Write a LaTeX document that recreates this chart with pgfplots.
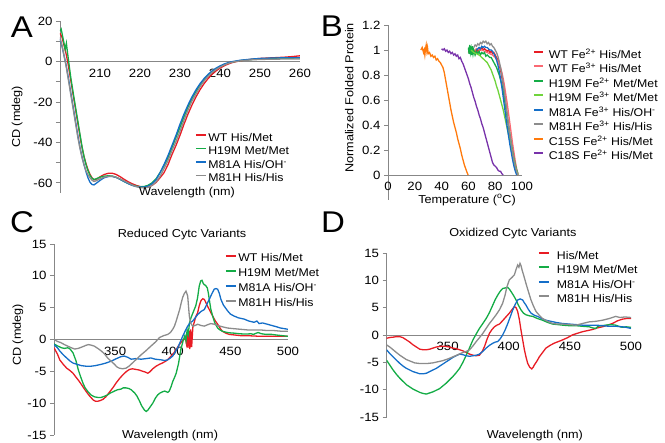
\documentclass[border=0pt]{standalone}
\usepackage{pgfplots}
\pgfplotsset{compat=1.18}
\usepackage{fontspec}
\setmainfont{Liberation Sans}[FakeStretch=1.1]
\definecolor{cred}{RGB}{232,28,36}
\definecolor{cgreen}{RGB}{20,172,70}
\definecolor{cblue}{RGB}{20,110,200}
\definecolor{cgray}{RGB}{140,140,140}
\definecolor{cpink}{RGB}{250,105,115}
\definecolor{clgreen}{RGB}{112,212,60}
\definecolor{corange}{RGB}{255,122,12}
\definecolor{cpurple}{RGB}{120,50,170}
\definecolor{axgray}{RGB}{135,135,135}
\pgfplotsset{
  panel/.style={
    scale only axis, anchor=south west,
    axis x line*=middle, axis y line*=left,
    axis line style={axgray,line width=0.8pt},
    tick style={axgray,line width=0.8pt},
    tick align=outside, major tick length=4pt, minor tick length=4pt,
    xtick style={draw=none},
    hide obscured x ticks=false, hide obscured y ticks=false,
    tick label style={font=\fontsize{12}{14}\selectfont},
    label style={font=\fontsize{11.5}{13}\selectfont},
    every axis plot/.append style={line width=1.3pt, no markers},
    legend style={draw=none, fill=none, inner sep=0pt, outer sep=0pt, anchor=north west,
      cells={anchor=west}, font=\fontsize{11.2}{13}\selectfont,
      nodes={inner sep=0pt, text height=8pt, text depth=2.5pt}},
    legend image code/.code={\draw[#1,line width=1.8pt] (0pt,3.5pt) -- (10pt,3.5pt);},
  }
}
\begin{document}
\begin{tikzpicture}[x=1pt,y=1pt]
\useasboundingbox (0,0) rectangle (665,443);
\node[font=\fontsize{30}{30}\selectfont] at (22,416) {A};
\node[font=\fontsize{30}{30}\selectfont] at (332,417) {B};
\node[font=\fontsize{30}{30}\selectfont] at (22,221) {C};
\node[font=\fontsize{30}{30}\selectfont] at (333,221) {D};
% ---------------- A
\begin{axis}[panel, at={(60pt,250pt)}, width=240pt, height=172pt,
  xmin=200, xmax=260, ymin=-65, ymax=20,
  xtick={210,220,230,240,250,260}, xticklabels={210,220,230,240,250,260},
  ytick={-60,-50,-40,-30,-20,-10,0,10,20}, yticklabels={-60,,-40,,-20,,0,,20},
  ylabel={CD (mdeg)}, xlabel={Wavelength (nm)},
  y label style={at={(axis description cs:-0.179,0.442)}, anchor=center},
  x label style={at={(axis description cs:0.529,0.0)}, anchor=center},
  legend style={at={(axis description cs:0.5625,0.347)}, row sep=3pt,
    /tikz/every odd column/.append style={column sep=1.5pt}},
]
\addplot[cred] coordinates {(200,14)(200.5,12)(201,8)(201.5,4)(202,-1)(202.5,-7)(203,-13)(203.5,-19)(204,-25)(204.5,-31)(205,-37)(205.5,-42.5)(206,-47)(206.5,-50.5)(207,-53.5)(207.5,-55.8)(208,-57.5)(208.5,-58.5)(209,-58.3)(210,-57)(211,-55.9)(212,-55.3)(213,-55.2)(214,-55.8)(215,-56.9)(216,-58.2)(217,-59.4)(218,-60.4)(219,-61.2)(220,-61.8)(221,-62.1)(222,-62)(223,-61.3)(224,-59.8)(225,-57.5)(226,-55)(227,-51)(228,-46)(229,-41.5)(230,-36.5)(231,-31)(232,-26)(233,-21.5)(234,-17.5)(235,-14)(236,-11)(237,-8.5)(238,-6.4)(239,-4.7)(240,-3.3)(241,-2.2)(242,-1.3)(243,-0.6)(244,-0.1)(246,0.6)(248,1.1)(250,1.5)(253,1.8)(256,2.1)(258,2.4)(260,2.8)};
\addlegendentry{WT His/Met}
\addplot[cgreen] coordinates {(200,15)(200.3,16)(200.6,13)(201,9)(201.3,6)(201.6,9)(201.9,4)(202.3,-2)(202.7,-8)(203.1,-13)(203.5,-18)(204,-24)(204.5,-30)(205,-36)(205.5,-42)(206,-47)(206.5,-51)(207,-54)(207.5,-56.3)(208,-57.8)(208.5,-58.3)(209,-58)(210,-57.2)(211,-56.7)(212,-56.5)(213,-56.6)(214,-57.2)(215,-58.2)(216,-59.3)(217,-60.3)(218,-61.1)(219,-61.6)(220,-61.9)(221,-61.8)(222,-61.2)(223,-60)(224,-58)(225,-55)(226,-51.5)(227,-47.5)(228,-42.5)(229,-37.5)(230,-32.5)(231,-27.3)(232,-22.5)(233,-18.3)(234,-14.8)(235,-11.6)(236,-9)(237,-6.8)(238,-5)(239,-3.6)(240,-2.5)(241,-1.6)(242,-0.8)(243,-0.3)(245,0.4)(248,1)(250,1.3)(253,1.5)(256,1.6)(260,1.7)};
\addlegendentry{H19M Met/Met}
\addplot[cblue] coordinates {(200,11)(200.5,7.5)(201,3)(201.5,-1.5)(202,-7)(202.5,-13)(203,-19)(203.5,-25)(204,-31)(204.5,-37)(205,-42.5)(205.5,-47)(206,-51)(206.5,-54.5)(207,-57.5)(207.5,-59.7)(208,-60.8)(208.5,-61)(209,-60.3)(210,-58.8)(211,-57.5)(212,-56.9)(213,-56.8)(214,-57.3)(215,-58.2)(216,-59.3)(217,-60.3)(218,-61.2)(219,-61.8)(220,-62.1)(221,-62.1)(222,-61.6)(223,-60.5)(224,-58.5)(225,-55)(226,-51)(227,-46.5)(228,-41.5)(229,-36.5)(230,-31)(231,-26)(232,-21.5)(233,-17.5)(234,-14)(235,-11)(236,-8.5)(237,-6.4)(238,-4.7)(239,-3.3)(240,-2.2)(241,-1.3)(242,-0.6)(243,-0.1)(245,0.6)(248,1.2)(250,1.5)(253,1.7)(256,1.8)(260,1.8)};
\addlegendentry{M81A His/OH\textsuperscript{-}}
\addplot[cgray] coordinates {(200,12)(200.5,8)(201,3)(201.5,-2)(202,-8)(202.5,-14)(203,-20)(203.5,-26)(204,-32)(204.5,-38)(205,-43)(205.5,-47.5)(206,-51)(206.5,-54)(207,-56)(207.5,-57.5)(208,-58.7)(208.5,-59.3)(209,-59)(210,-58)(211,-57.2)(212,-56.8)(213,-56.7)(214,-57.2)(215,-58)(216,-59)(217,-60)(218,-61)(219,-61.8)(220,-62.3)(221,-62.5)(222,-62.2)(223,-61.2)(224,-59.5)(225,-56.8)(226,-53)(227,-49)(228,-44)(229,-39.5)(230,-34.5)(231,-29)(232,-24)(233,-19.5)(234,-16)(235,-12.5)(236,-9.7)(237,-7.4)(238,-5.5)(239,-4)(240,-2.8)(241,-1.8)(242,-1)(243,-0.4)(244,0)(246,0.5)(248,0.8)(250,1)(253,1.1)(256,1.2)(260,1.2)};
\addlegendentry{M81H His/His}
\end{axis}
% ---------------- B
\begin{axis}[panel, at={(388pt,243pt)}, width=134pt, height=175pt,
  xmin=0, xmax=100, ymin=-0.2, ymax=1.2,
  xtick={0,20,40,60,80,100}, xticklabels={0,20,40,60,80,100},
  ytick={0,0.2,0.4,0.6,0.8,1,1.2}, yticklabels={0,0.2,0.4,0.6,0.8,1,1.2},
  ylabel={Normalized Folded Protein}, xlabel={Temperature (\textsuperscript{o}C)},
  y label style={at={(axis description cs:-0.29,0.583)}, anchor=center},
  x label style={at={(axis description cs:0.59,0.0)}, anchor=center},
  legend style={at={(axis description cs:1.082,0.857)}, row sep=4pt,
    /tikz/every odd column/.append style={column sep=5pt}},
  legend image code/.code={\draw[#1,line width=1.8pt] (0pt,3.5pt) -- (9pt,3.5pt);},
]
\addplot[cred] coordinates {(60,0.98)(61,1.0)(62,0.99)(63,1.01)(64,0.98)(65,0.99)(66,1.0)(67,0.99)(68,1.01)(69,1.0)(70,1.02)(71,1.0)(72,1.01)(73,1.0)(74,0.99)(75,1.0)(76,0.98)(77,0.99)(78,0.97)(79,0.98)(80,0.96)(81,0.94)(82,0.92)(83,0.88)(84,0.84)(85,0.78)(86,0.72)(87,0.64)(88,0.56)(89,0.47)(90,0.39)(91,0.31)(92,0.24)(93,0.17)(94,0.11)(95,0.06)(96,0.02)(97,0)};
\addlegendentry{WT Fe\textsuperscript{2+} His/Met}
\addplot[cpink] coordinates {(62,1.0)(64,0.99)(66,1.01)(68,1.0)(70,1.0)(72,0.99)(74,0.98)(76,0.97)(78,0.96)(80,0.94)(82,0.91)(84,0.86)(85,0.82)(86,0.77)(87,0.71)(88,0.64)(89,0.57)(90,0.49)(91,0.41)(92,0.33)(93,0.25)(94,0.18)(95,0.11)(96,0.05)(97,0.01)};
\addlegendentry{WT Fe\textsuperscript{3+} His/Met}
\addplot[cgreen] coordinates {(60,1.02)(60.5,0.97)(61,1.04)(61.5,0.98)(62,1.01)(62.5,0.96)(63,1.03)(63.5,0.97)(64,1.0)(65,0.96)(66,0.99)(67,0.97)(68,0.99)(69,0.96)(70,0.98)(71,0.97)(72,0.98)(73,0.95)(74,0.96)(75,0.95)(76,0.94)(77,0.94)(78,0.92)(79,0.9)(80,0.88)(81,0.86)(82,0.83)(83,0.8)(84,0.76)(85,0.72)(86,0.67)(87,0.6)(88,0.53)(89,0.46)(90,0.39)(91,0.32)(92,0.25)(93,0.19)(94,0.13)(95,0.08)(96,0.04)(97,0.01)};
\addlegendentry{H19M Fe\textsuperscript{2+} Met/Met}
\addplot[clgreen] coordinates {(62,1.0)(64,0.98)(66,0.97)(68,0.96)(70,0.94)(72,0.92)(74,0.9)(75,0.88)(76,0.86)(77,0.84)(78,0.81)(79,0.78)(80,0.75)(81,0.71)(82,0.68)(83,0.64)(84,0.6)(85,0.56)(86,0.52)(87,0.47)(88,0.42)(89,0.37)(90,0.32)(91,0.27)(92,0.22)(93,0.17)(94,0.12)(95,0.07)(96,0.03)(97,0)};
\addlegendentry{H19M Fe\textsuperscript{3+} Met/Met}
\addplot[cblue] coordinates {(66,1.0)(67,1.01)(68,1.02)(69,1.01)(70,1.03)(71,1.02)(72,1.03)(73,1.02)(74,1.02)(75,1.01)(76,1.0)(77,1.0)(78,0.99)(79,0.97)(80,0.95)(81,0.92)(82,0.88)(83,0.83)(84,0.77)(85,0.7)(86,0.62)(87,0.54)(88,0.46)(89,0.38)(90,0.31)(91,0.24)(92,0.18)(93,0.12)(94,0.07)(95,0.03)(96,0)};
\addlegendentry{M81A Fe\textsuperscript{3+} His/OH\textsuperscript{-}}
\addplot[cgray] coordinates {(64,1.02)(65,1.04)(66,1.03)(67,1.05)(68,1.04)(69,1.06)(70,1.05)(71,1.07)(72,1.06)(73,1.07)(74,1.05)(75,1.06)(76,1.04)(77,1.05)(78,1.03)(79,1.02)(80,1.0)(81,0.98)(82,0.95)(83,0.91)(84,0.86)(85,0.8)(86,0.73)(87,0.65)(88,0.57)(89,0.48)(90,0.4)(91,0.32)(92,0.25)(93,0.18)(94,0.12)(95,0.07)(96,0.03)(97,0)};
\addlegendentry{M81H Fe\textsuperscript{3+} His/His}
\addplot[corange] coordinates {(24.5,1.0)(25.5,1.02)(26.5,0.98)(27,1.0)(27.5,0.96)(28,1.01)(28.5,1.04)(29,0.99)(29.5,1.02)(30,0.97)(31,0.98)(32,0.95)(33,0.96)(34,0.94)(35,0.95)(36,0.92)(37,0.93)(38,0.91)(39,0.9)(40,0.88)(41,0.86)(42,0.82)(43,0.76)(44,0.7)(45,0.64)(46,0.58)(47,0.52)(48,0.47)(49,0.42)(50,0.38)(51,0.34)(52,0.29)(53,0.25)(54,0.21)(55,0.16)(56,0.12)(57,0.08)(58,0.05)(59,0.02)(59.8,0)};
\addlegendentry{C15S Fe\textsuperscript{2+} His/Met}
\addplot[cpurple] coordinates {(40,1.01)(41,1.0)(42,1.01)(43,0.99)(44,1.0)(45,0.98)(46,0.99)(47,0.97)(48,0.98)(49,0.96)(50,0.97)(51,0.95)(52,0.96)(53,0.93)(54,0.94)(55,0.91)(56,0.89)(57,0.86)(58,0.83)(59,0.8)(60,0.77)(61,0.73)(62,0.7)(63,0.66)(64,0.62)(65,0.59)(66,0.55)(67,0.52)(68,0.48)(69,0.45)(70,0.41)(71,0.38)(72,0.34)(73,0.3)(74,0.26)(75,0.22)(76,0.18)(77,0.14)(78,0.1)(79,0.08)(80,0.07)(81,0.06)(82,0.04)(83,0.03)(84,0.03)(85,0.01)(86,0)};
\addlegendentry{C18S Fe\textsuperscript{2+} His/Met}
\end{axis}
% ---------------- C
\begin{axis}[panel, at={(54pt,8pt)}, width=234pt, height=191pt,
  xmin=297, xmax=500, ymin=-15, ymax=15,
  xtick={350,400,450,500}, xticklabels={350,400,450,500},
  ytick={-15,-10,-5,0,5,10,15}, yticklabels={-15,-10,-5,0,5,10,15},
  ylabel={CD (mdeg)}, xlabel={Wavelength (nm)},
  title={Reduced Cytc Variants},
  title style={at={(axis description cs:0.547,1.02)}, anchor=center, font=\fontsize{11.5}{13}\selectfont},
  y label style={at={(axis description cs:-0.154,0.524)}, anchor=center},
  x label style={at={(axis description cs:0.496,-0.004)}, anchor=center},
  legend style={at={(axis description cs:0.731,0.948)}, row sep=4.5pt,
    /tikz/every odd column/.append style={column sep=1.5pt}},
]
\addplot[cred] coordinates {(297,-1.3)(300,-2.3)(302,-3.2)(305,-3.9)(308,-4.5)(311,-4.9)(313.5,-5.3)(316,-5.9)(319,-6.6)(322,-7.4)(325,-8.2)(328,-8.9)(331,-9.5)(333,-9.7)(335,-9.7)(337,-9.6)(339.5,-9.4)(342,-9)(345,-8.3)(348,-7.6)(351,-6.8)(354,-6.1)(357,-5.5)(360,-5)(362.5,-4.7)(365,-4.6)(368,-4.7)(371,-4.8)(374,-5)(376,-5.1)(378.4,-5.3)(380,-5.1)(382.7,-4.6)(385.5,-4.2)(388.5,-3.9)(391,-3.7)(394,-3.4)(396,-3.1)(398.6,-2.6)(401,-2.1)(403,-1.6)(405,-1)(407,-0.5)(409,-0.1)(410,0)(411,0.2)(411.8,-0.6)(412.5,1.2)(413.2,-1.3)(414,1.4)(414.8,-1.5)(415.6,1.6)(416.4,-1.2)(417.5,2)(418.5,2.6)(420,3.6)(421.6,4.2)(423,5.3)(424.5,6.1)(426,6.4)(427.4,6.3)(428.5,5.9)(430,5.3)(432,4.6)(434.6,3.7)(437,2.9)(439,2.4)(441,1.8)(443,1.3)(446,1)(449,0.8)(454,0.7)(459,0.6)(465,0.6)(470,0.55)(476,0.5)(482,0.5)(488,0.5)(494,0.5)(500,0.5)};
\addlegendentry{WT His/Met}
\addplot[cgreen] coordinates {(297,-0.7)(300,-1)(303.5,-1.3)(306,-1.4)(309,-1.3)(311,-1.5)(313.5,-2.1)(316,-3.3)(318,-4.7)(320,-5.8)(322,-6.8)(324,-7.6)(326.5,-8.2)(329,-8.7)(332,-9)(335,-9.1)(338,-9.1)(341,-8.9)(343.5,-8.7)(346,-8.4)(349.5,-8.1)(352,-7.9)(355,-7.8)(357,-7.6)(359.5,-7.6)(362,-7.7)(364,-7.9)(367,-8.4)(369,-8.9)(371,-9.6)(373,-10.4)(375.5,-11.1)(377,-11.3)(378.4,-11.1)(380,-10.7)(382.7,-10)(385,-9.2)(387,-8.7)(389,-8.4)(391.4,-8.2)(393,-8.1)(395.7,-8.3)(397,-8.1)(398.6,-7.4)(400,-6.6)(401.5,-6)(403,-5.3)(405,-3.8)(407,-1.6)(409,-0.2)(410.5,0.6)(411.5,-0.2)(412.5,1.5)(413.5,0.8)(414.5,2.6)(416,3.5)(418,4.4)(420,5.3)(421.5,6.5)(423,8.4)(424.3,9.2)(425.4,9.3)(426.5,8.8)(427.4,8.6)(428.5,8.5)(430,8.1)(431,7.2)(431.7,6.3)(433,4.8)(434.6,3.7)(436.5,2.6)(439,1.8)(441,1.5)(443,1.3)(446,1.15)(449,1.05)(453,1)(458,0.9)(463,0.85)(468,0.9)(470,0.8)(474,1.1)(477,0.9)(481,0.8)(486,0.8)(490,0.7)(495,0.6)(500,0.5)};
\addlegendentry{H19M Met/Met}
\addplot[cblue] coordinates {(297,-0.8)(300,-1.3)(302,-1.8)(305,-2.4)(308,-2.9)(311,-3.4)(313.5,-3.7)(317,-3.9)(320.6,-4.1)(325,-4.2)(329,-4.2)(333,-4.1)(338,-3.9)(342,-3.7)(346.7,-3.4)(350,-3.1)(352.5,-2.9)(355,-2.7)(358,-2.6)(361,-2.8)(364,-3.1)(368,-3.0)(372.6,-3.1)(377,-3.0)(381,-2.9)(385,-3.1)(390,-3.2)(393,-3.3)(395.7,-3.2)(398,-2.9)(400,-2.6)(402,-2.0)(404.3,-1.3)(406.5,-0.4)(408.6,0.5)(411,1.4)(413,2.1)(415,2.6)(417.3,2.9)(419.5,3.4)(421.6,3.9)(424.5,4.4)(427.4,4.7)(429.5,5.5)(431.7,6.3)(434,7.2)(436,7.9)(437.5,8)(439,7.9)(440.5,7.2)(441.8,6.3)(444,5.4)(447.6,4.5)(450,4)(453,3.7)(457,3.4)(462,3.2)(466,2.9)(470.6,2.7)(473,2.9)(475,2.5)(478,2.6)(482,2.4)(486,2.2)(490,2.0)(493.5,1.8)(497,1.7)(500,1.6)};
\addlegendentry{M81A His/OH\textsuperscript{-}}
\addplot[cgray] coordinates {(297,0)(300,-0.3)(303,-0.5)(306,-0.8)(309,-1.05)(312,-1.3)(315,-1.5)(318,-1.4)(321,-1.2)(323,-1.05)(325,-0.9)(327,-0.8)(329.5,-0.9)(332,-1.05)(335,-1.4)(338,-1.8)(341,-2.3)(343.5,-2.9)(346.5,-3.4)(349.5,-3.9)(351.5,-4.3)(353.6,-4.5)(356.5,-4.6)(359.5,-4.5)(362,-4.2)(365,-3.7)(368.5,-3.1)(372.6,-2.4)(376.5,-1.8)(381,-1.05)(385,-0.4)(388.5,0.3)(392,0.6)(395.7,0.8)(398,1.1)(400,1.6)(401.5,2.1)(403,2.9)(404.5,3.8)(406,4.7)(407.3,5.7)(408.6,6.6)(410,7.2)(411.5,7.6)(412.3,7.2)(413,6.8)(413.7,5.2)(414.4,3.7)(415.5,2.6)(417.3,2.1)(419.5,2.2)(421.6,2.4)(424.5,2.2)(427.4,2.1)(430,2.3)(433,2.5)(436,2.4)(439,2.2)(443,2)(447.6,1.8)(453,1.7)(459,1.6)(465,1.5)(470,1.5)(476,1.5)(482,1.4)(488,1.4)(494,1.3)(500,1.3)};
\addlegendentry{M81H His/His}
\end{axis}
% ---------------- D
\begin{axis}[panel, at={(386.5pt,26pt)}, width=244.5pt, height=164pt,
  xmin=300, xmax=500, ymin=-15, ymax=15,
  xtick={350,400,450,500}, xticklabels={350,400,450,500},
  ytick={-15,-10,-5,0,5,10,15}, yticklabels={-15,-10,-5,0,5,10,15},
  xlabel={Wavelength (nm)},
  title={Oxidized Cytc Variants},
  title style={at={(axis description cs:0.517,1.08)}, anchor=center, font=\fontsize{11.5}{13}\selectfont},
  x label style={at={(axis description cs:0.607,-0.11)}, anchor=center},
  legend style={at={(axis description cs:0.62,1.012)}, row sep=4pt,
    /tikz/every odd column/.append style={column sep=7pt}},
]
\addplot[cred] coordinates {(300,-0.6)(303,-0.45)(305.4,-0.4)(308,-0.3)(310.9,-0.3)(313.5,-0.5)(316.3,-0.9)(319,-1.3)(321.7,-1.8)(324.5,-2.2)(327.2,-2.6)(330,-2.7)(332.6,-2.7)(335.3,-2.6)(338,-2.4)(340.7,-2.2)(343.5,-2.1)(346,-2.05)(348.9,-2.1)(351.6,-2.2)(354.3,-2.4)(357,-2.5)(359.8,-2.7)(362.5,-2.9)(365.2,-3.2)(368,-3.5)(370.7,-3.7)(373.3,-3.8)(376,-3.7)(378.3,-3)(380.2,-2.1)(382.2,-0.8)(384.2,0.3)(386.3,1)(388.3,1.5)(390.3,1.8)(392.4,2.0)(394.5,2.5)(396.5,3.0)(398.5,3.5)(400.5,4.0)(402.5,4.6)(404.6,5.2)(406,5.0)(407.3,4.3)(408.7,2.8)(410,0.9)(411.4,-0.9)(412.8,-2.7)(414.2,-4.1)(415.5,-5.2)(417.2,-5.9)(418.8,-6.2)(420,-5.9)(420.9,-5.5)(423,-4.8)(425,-4.0)(427.7,-3.2)(430.4,-2.4)(433.8,-1.9)(437.2,-1.5)(440.6,-1.2)(444,-0.9)(448,-0.5)(452,0)(456,0.3)(460.3,0.6)(464.4,0.8)(468.5,1.0)(472.5,1.3)(476.6,1.5)(480.7,1.8)(484.8,2.1)(489,2.6)(493,2.9)(496,3.0)(500,3.0)};
\addlegendentry{His/Met}
\addplot[cgreen] coordinates {(300,-4.6)(302.7,-5.5)(305.4,-6.4)(308.1,-7.2)(310.9,-7.9)(313.6,-8.5)(316.3,-9.1)(319,-9.5)(321.7,-9.9)(324.5,-10.2)(327.2,-10.5)(330,-10.7)(332.6,-10.8)(335.3,-10.6)(338,-10.4)(340.8,-10.1)(343.5,-9.8)(346.2,-9.3)(348.9,-8.8)(351.6,-8.2)(354.3,-7.6)(357,-6.9)(359.8,-6.1)(362.5,-5.0)(365.2,-3.7)(368,-2.3)(370.7,-0.9)(373.4,0.2)(376,1.2)(378.8,2.1)(381.5,3.0)(384.2,4.1)(387,5.5)(389,6.5)(391,7.3)(393,8.0)(395,8.5)(397,8.6)(399.2,8.7)(400.5,8.4)(402,7.9)(404,7.2)(406,6.4)(408,5.4)(410,4.6)(412,4.0)(414,3.7)(417,3.5)(419.6,3.4)(423.6,3.0)(427.7,2.7)(431.8,2.3)(435.9,2.0)(440,1.9)(444,1.8)(449.5,1.7)(455,1.7)(460,1.6)(465.8,1.5)(468.5,1.3)(471.2,1.2)(473,1.6)(476,1.7)(479.3,1.8)(483.4,1.9)(487.5,1.8)(491,1.5)(493,1.4)(496,1.5)(500,1.4)};
\addlegendentry{H19M Met/Met}
\addplot[cblue] coordinates {(300,-2.7)(302.7,-3.4)(305.4,-4.0)(308.1,-4.6)(310.9,-5.2)(313.6,-5.7)(316.3,-6.1)(319,-6.4)(321.7,-6.7)(324.5,-6.9)(327.2,-7.1)(330,-7.1)(332.6,-7.0)(335.3,-6.7)(338,-6.4)(340.8,-6.1)(343.5,-5.7)(346.2,-5.3)(348.9,-4.9)(351.6,-4.5)(354.3,-4.1)(357,-3.8)(359.8,-3.5)(362.5,-3.6)(365.2,-3.8)(368,-3.9)(370.7,-3.8)(373.4,-3.7)(376,-3.5)(378.8,-3.0)(381.5,-2.4)(384.2,-1.9)(387,-1.5)(389,-1.3)(391,-1.2)(393,-0.7)(395,0)(397,0.9)(399.2,2.1)(401.2,3.3)(403.3,4.6)(405.3,5.6)(407.3,6.4)(409.3,6.6)(411.4,6.4)(412.7,5.9)(414,5.5)(416,4.7)(418.2,4.0)(421,3.6)(423.6,3.4)(427,3.0)(430.4,2.7)(434.5,2.5)(438.6,2.3)(444,2.1)(449.5,2.0)(455,1.9)(460.3,1.8)(466,1.8)(471.2,1.8)(476.6,1.7)(482,1.6)(487.5,1.6)(493,1.5)(496,1.4)(500,1.2)};
\addlegendentry{M81A His/OH\textsuperscript{-}}
\addplot[cgray] coordinates {(300,-1.8)(302.7,-2.2)(305.4,-2.7)(308.1,-3.2)(310.9,-3.7)(313.6,-4.1)(316.3,-4.5)(319.6,-4.8)(323,-5.1)(326.5,-5.2)(330,-5.2)(334,-5.2)(338,-5.1)(342,-4.9)(346,-4.7)(350,-4.4)(354.3,-4.0)(358.4,-3.6)(362.5,-3.2)(365.2,-3.0)(368,-2.7)(370.7,-2.0)(373.4,-1.2)(376,-0.5)(378.8,0.3)(381.5,1.2)(384.2,2.1)(387,2.9)(389.7,3.7)(392.4,4.6)(395,5.8)(397,7.3)(398.5,8.8)(400.5,10.1)(402.5,10.5)(404.6,11.0)(406,12.0)(407.3,12.8)(408.3,12.4)(409.2,13.1)(410,12.7)(410.9,11.9)(412.5,10.7)(414,9.5)(416,8.0)(418.2,6.4)(420.2,5.3)(422.3,4.3)(425,3.6)(427.7,3.0)(431.8,2.5)(435.9,2.1)(440,2.0)(444,2.0)(449.5,1.9)(455,1.8)(460.3,2.1)(465.8,2.4)(471.2,2.5)(476.6,2.7)(482,3.0)(487.5,3.4)(491,3.2)(495,3.3)(500,3.2)};
\addlegendentry{M81H His/His}
\end{axis}
\end{tikzpicture}
\end{document}
